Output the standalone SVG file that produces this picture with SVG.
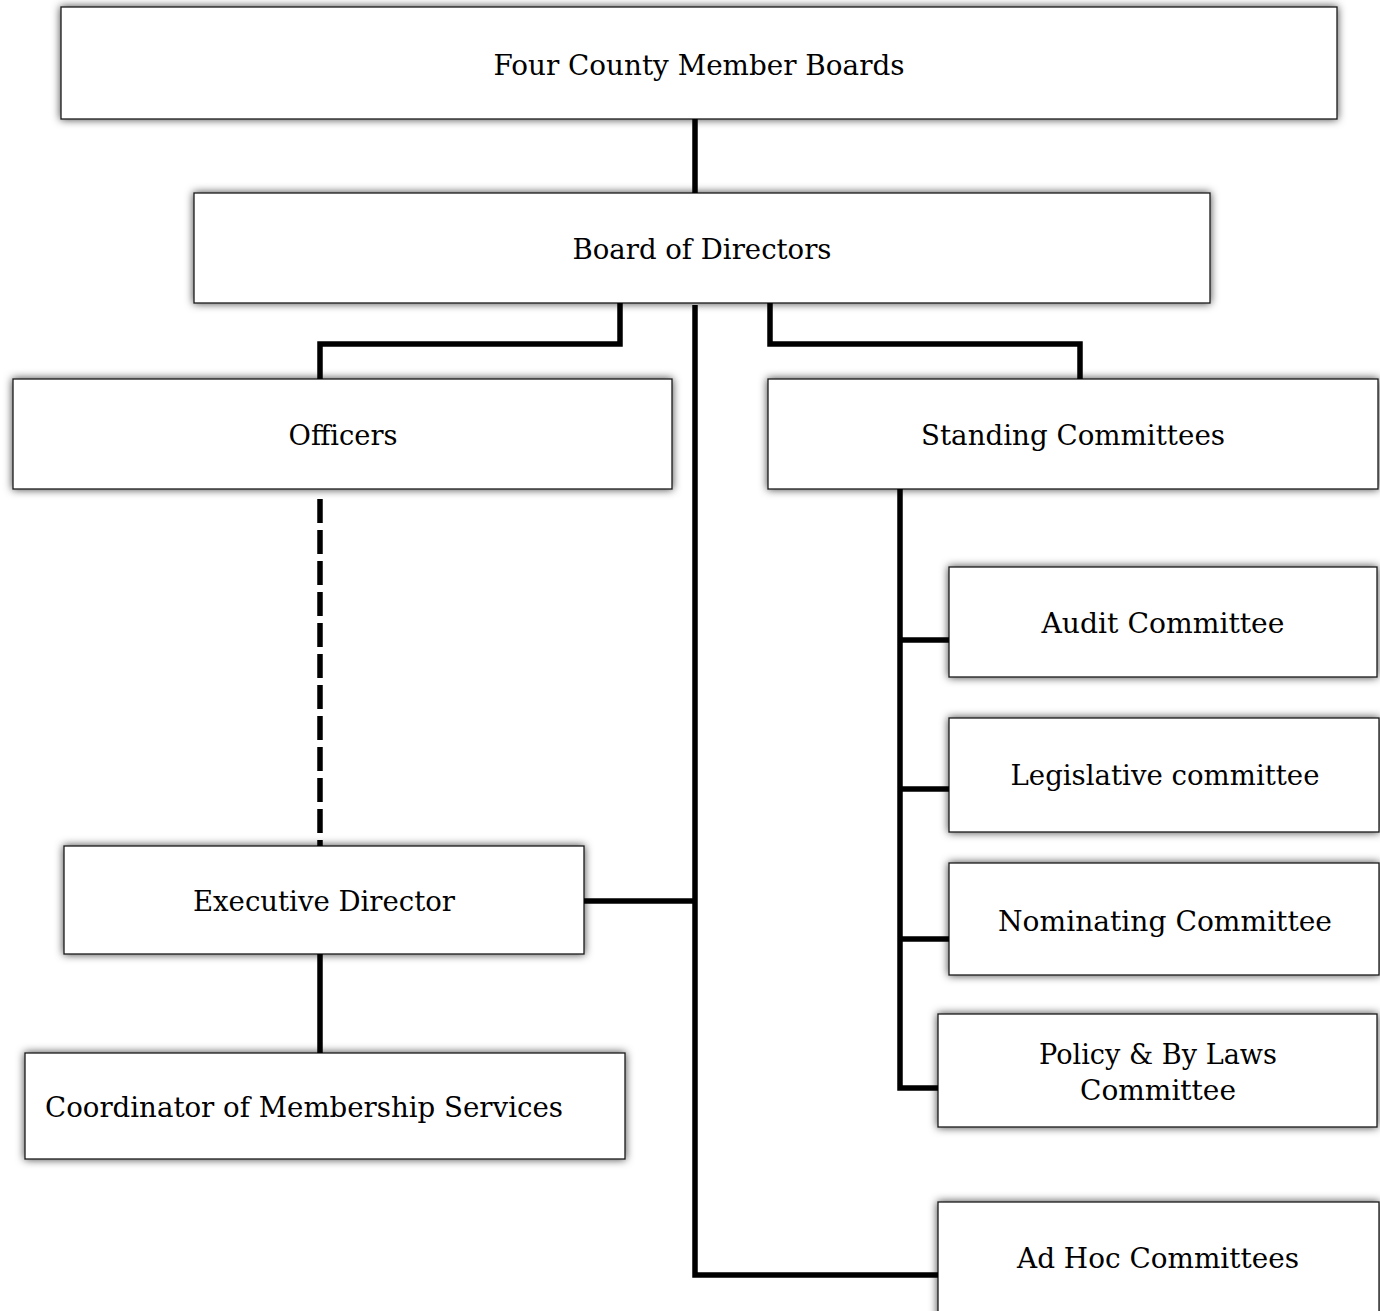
<svg xmlns="http://www.w3.org/2000/svg" width="1380" height="1311" viewBox="0 0 1380 1311">
<defs>
<filter id="sh" x="-10%" y="-30%" width="120%" height="160%">
<feGaussianBlur in="SourceAlpha" stdDeviation="4.5" result="b"/>
<feFlood flood-color="#000" flood-opacity="0.75"/>
<feComposite in2="b" operator="in" result="s"/>
<feMerge><feMergeNode in="s"/><feMergeNode in="SourceGraphic"/></feMerge>
</filter>
</defs>
<style>
.box{fill:#fff;stroke:#1a1a1a;stroke-width:1.3;filter:url(#sh)}
.t{font-family:"DejaVu Serif","Liberation Serif",serif;font-size:28px;fill:#000;text-anchor:middle}
.c{fill:none;stroke:#000;stroke-width:5.5;stroke-linecap:butt;stroke-linejoin:miter}
.d{stroke-dasharray:24 7}
</style>
<rect width="1380" height="1311" fill="#fff"/>
<g id="n-four-county">
<rect class="box" x="61" y="7" width="1276" height="112"/>
<text class="t" x="699" y="75" textLength="411" lengthAdjust="spacingAndGlyphs">Four County Member Boards</text>
</g>
<g id="n-board">
<rect class="box" x="194" y="193" width="1016" height="110"/>
<text class="t" x="702" y="259" textLength="259" lengthAdjust="spacingAndGlyphs">Board of Directors</text>
</g>
<g id="n-officers">
<rect class="box" x="13" y="379" width="659" height="110"/>
<text class="t" x="343" y="445" textLength="109" lengthAdjust="spacingAndGlyphs">Officers</text>
</g>
<g id="n-standing">
<rect class="box" x="768" y="379" width="610" height="110"/>
<text class="t" x="1073" y="445" textLength="304" lengthAdjust="spacingAndGlyphs">Standing Committees</text>
</g>
<g id="n-audit">
<rect class="box" x="949" y="567" width="428" height="110"/>
<text class="t" x="1163" y="633" textLength="243" lengthAdjust="spacingAndGlyphs">Audit Committee</text>
</g>
<g id="n-legislative">
<rect class="box" x="949" y="718" width="430" height="114"/>
<text class="t" x="1165" y="785" textLength="309" lengthAdjust="spacingAndGlyphs">Legislative committee</text>
</g>
<g id="n-nominating">
<rect class="box" x="949" y="863" width="430" height="112"/>
<text class="t" x="1165" y="931" textLength="334" lengthAdjust="spacingAndGlyphs">Nominating Committee</text>
</g>
<g id="n-policy">
<rect class="box" x="938" y="1014" width="439" height="113"/>
<text class="t" x="1158" y="1064" textLength="238" lengthAdjust="spacingAndGlyphs">Policy &amp; By Laws</text>
<text class="t" x="1158" y="1100" textLength="156" lengthAdjust="spacingAndGlyphs">Committee</text>
</g>
<g id="n-adhoc">
<rect class="box" x="938" y="1202" width="441" height="130"/>
<text class="t" x="1158" y="1268" textLength="282" lengthAdjust="spacingAndGlyphs">Ad Hoc Committees</text>
</g>
<g id="n-exec">
<rect class="box" x="64" y="846" width="520" height="108"/>
<text class="t" x="324" y="911" textLength="262" lengthAdjust="spacingAndGlyphs">Executive Director</text>
</g>
<g id="n-coord">
<rect class="box" x="25" y="1053" width="600" height="106"/>
<text class="t" x="45" y="1117" textLength="518" lengthAdjust="spacingAndGlyphs" style="text-anchor:start">Coordinator of Membership Services</text>
</g>
<g id="connectors">
<path class="c" d="M695 119V193"/>
<path class="c" d="M695 305V1275H938"/>
<path class="c" d="M620 303V344H320V379"/>
<path class="c" d="M770 303V344H1080V379"/>
<path class="c d" d="M320 499V846"/>
<path class="c" d="M584 901H695"/>
<path class="c" d="M320 954V1053"/>
<path class="c" d="M900 489V1088H938"/>
<path class="c" d="M900 640H949"/>
<path class="c" d="M900 789H949"/>
<path class="c" d="M900 939H949"/>
</g>
</svg>
